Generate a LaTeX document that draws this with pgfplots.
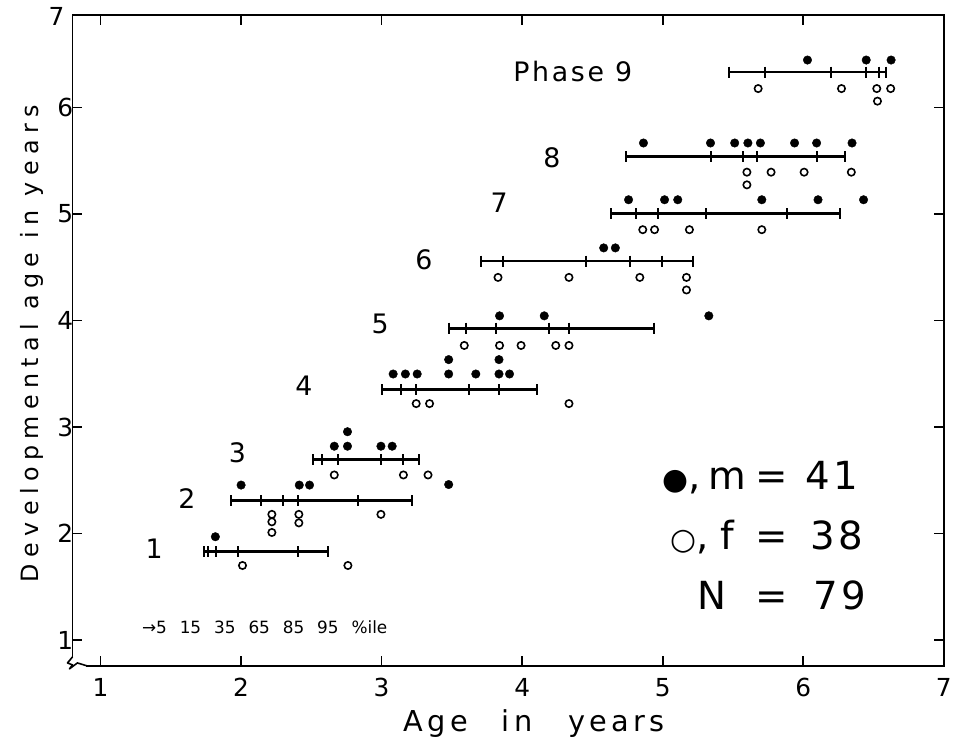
\documentclass[border=0pt]{standalone}
\usepackage{fontspec}
\setmainfont{DejaVu Sans}
\usepackage{pgfplots}
\pgfplotsset{compat=1.18}
\usetikzlibrary{calc}
\newcommand\fs[1]{\fontsize{#1}{#1}\selectfont}

\begin{document}
\begin{tikzpicture}
\begin{axis}[
  name=ax,
  scale only axis, width=878pt, height=656pt,
  xmin=0.8, xmax=7, ymin=0.757, ymax=6.87,
  xtick={1,...,7}, ytick={1,...,6},
  axis line style={line width=1.6pt},
  major tick style={line width=1.6pt, black},
  major tick length=10pt,
  tick align=inside,
  /pgf/number format/assume math mode=true,
  ticklabel style={font=\fs{25}},
  xticklabel style={yshift=-9pt},
  yticklabel style={inner sep=1pt, xshift=2pt},
  xlabel={Age\hspace{34pt}in\hspace{36pt}years},
  ylabel={Developmental age in years},
  xlabel style={at={(axis description cs:0.53,-0.088)}, anchor=center, font=\fs{29}\addfontfeature{LetterSpace=15}},
  ylabel style={at={(axis description cs:-0.047,0.495)}, anchor=center, font=\fs{24}\addfontfeature{LetterSpace=27}},
  clip=false,
]
% percentile bars (5,15,35,65,85,95 %ile)
\pgfplotsset{pbar/.style={black, line width=2.7pt, mark=|, mark size=5.5pt, mark options={line width=2pt}}}
\addplot[pbar] coordinates {(1.735,1.83) (1.764,1.83) (1.823,1.83) (1.981,1.83) (2.404,1.83) (2.619,1.83)};
\addplot[pbar] coordinates {(1.929,2.31) (2.145,2.31) (2.296,2.31) (2.407,2.31) (2.833,2.31) (3.216,2.31)};
\addplot[pbar] coordinates {(2.515,2.695) (2.576,2.695) (2.687,2.695) (2.995,2.695) (3.152,2.695) (3.265,2.695)};
\addplot[pbar] coordinates {(3.002,3.352) (3.136,3.352) (3.242,3.352) (3.623,3.352) (3.836,3.352) (4.107,3.352)};
\addplot[pbar] coordinates {(3.482,3.928) (3.599,3.928) (3.811,3.928) (4.188,3.928) (4.333,3.928) (4.94,3.928)};
\addplot[pbar] coordinates {(3.71,4.558) (3.865,4.558) (4.451,4.558) (4.764,4.558) (4.994,4.558) (5.218,4.558)};
\addplot[pbar] coordinates {(4.63,5.003) (4.811,5.003) (4.966,5.003) (5.31,5.003) (5.884,5.003) (6.262,5.003)};
\addplot[pbar] coordinates {(4.74,5.539) (5.342,5.539) (5.571,5.539) (5.67,5.539) (6.095,5.539) (6.30,5.539)};
\addplot[pbar] coordinates {(5.469,6.333) (5.728,6.333) (6.194,6.333) (6.448,6.333) (6.54,6.333) (6.591,6.333)};
% males (filled)
\addplot[only marks, mark=*, mark size=4.3pt, black] coordinates {
(1.817,1.97)
(2.0,2.455) (2.414,2.455) (2.487,2.455) (3.477,2.46)
(2.757,2.956) (2.663,2.82) (2.757,2.82) (2.995,2.82) (3.075,2.82)
(3.082,3.498) (3.169,3.498) (3.253,3.498) (3.477,3.633) (3.477,3.498) (3.67,3.498) (3.835,3.633) (3.835,3.498) (3.91,3.498)
(3.839,4.044) (4.157,4.044) (5.328,4.044)
(4.58,4.682) (4.663,4.682)
(4.757,5.134) (5.013,5.134) (5.107,5.134) (5.705,5.134) (6.105,5.134) (6.429,5.134)
(4.863,5.667) (5.34,5.667) (5.512,5.667) (5.606,5.667) (5.695,5.667) (5.938,5.667) (6.095,5.667) (6.347,5.667)
(6.03,6.446) (6.448,6.446) (6.625,6.446)
};
% females (open)
\addplot[only marks, mark=o, mark size=3.7pt, mark options={line width=1.6pt}, black] coordinates {
(2.01,1.70) (2.76,1.70)
(2.219,2.18) (2.219,2.11) (2.219,2.01) (2.411,2.18) (2.411,2.10) (2.995,2.18)
(2.663,2.55) (3.155,2.55) (3.33,2.55)
(3.246,3.22) (3.341,3.22) (4.333,3.22)
(3.588,3.766) (3.839,3.766) (3.992,3.766) (4.239,3.766) (4.333,3.766)
(3.828,4.405) (4.333,4.405) (4.837,4.405) (5.169,4.405) (5.169,4.287)
(4.858,4.853) (4.942,4.853) (5.19,4.853) (5.705,4.853)
(5.599,5.393) (5.771,5.393) (6.006,5.393) (6.342,5.393) (5.599,5.274)
(5.679,6.178) (6.272,6.178) (6.523,6.178) (6.622,6.178) (6.528,6.06)
};
% phase labels
\begin{scope}[every node/.style={font=\fs{27}\addfontfeature{LetterSpace=10}}]
\node at (axis cs:1.381,1.858) {1};
\node at (axis cs:1.614,2.325) {2};
\node at (axis cs:1.974,2.754) {3};
\node at (axis cs:2.447,3.388) {4};
\node at (axis cs:2.99,3.966) {5};
\node at (axis cs:3.30,4.573) {6};
\node at (axis cs:3.837,5.104) {7};
\node at (axis cs:4.211,5.524) {8};
\node at (axis cs:4.36,6.336) {Phase 9};
\end{scope}
% percentile key
\node[anchor=west, font=\fs{17}] at (axis cs:1.27,1.12) {→5\hspace{13pt}15\hspace{13pt}35\hspace{13pt}65\hspace{13pt}85\hspace{13pt}95\hspace{13pt}\%ile};
% legend
\begin{scope}[every node/.style={font=\fs{39}\addfontfeature{LetterSpace=8}, inner sep=0pt}]
\node[anchor=base east] at (axis cs:5.594,2.409) {{\fs{30}●},\hspace{8pt}m};
\node[anchor=base] at (axis cs:5.778,2.409) {=};
\node[anchor=base west] at (axis cs:6.018,2.409) {41};
\node[anchor=base east] at (axis cs:5.51,1.849) {{\fs{30}○},\hspace{12pt}f};
\node[anchor=base] at (axis cs:5.778,1.849) {=};
\node[anchor=base west] at (axis cs:6.053,1.849) {38};
\node[anchor=base east] at (axis cs:5.453,1.289) {N};
\node[anchor=base] at (axis cs:5.778,1.289) {=};
\node[anchor=base west] at (axis cs:6.074,1.289) {79};
\end{scope}
\end{axis}
% top y label "7"
\node[anchor=east, font=\fs{25}, inner sep=1pt] at ($(ax.north west)+(-7pt,-2pt)$) {7};
% axis break
\begin{scope}[shift={(ax.south west)}]
\fill[white] (-2pt,-2pt) rectangle (14pt,9pt);
\draw[line width=1.6pt, line join=round] (0pt,9pt) -- (-5pt,3pt) -- (0pt,1pt) -- (-3pt,-3pt) -- (5pt,3pt) -- (14.8pt,0pt);
\end{scope}
% bounding box
\path ($(ax.south west)+(-73pt,-74pt)$) rectangle ($(ax.north east)+(4pt,15pt)$);
\end{tikzpicture}
\end{document}
